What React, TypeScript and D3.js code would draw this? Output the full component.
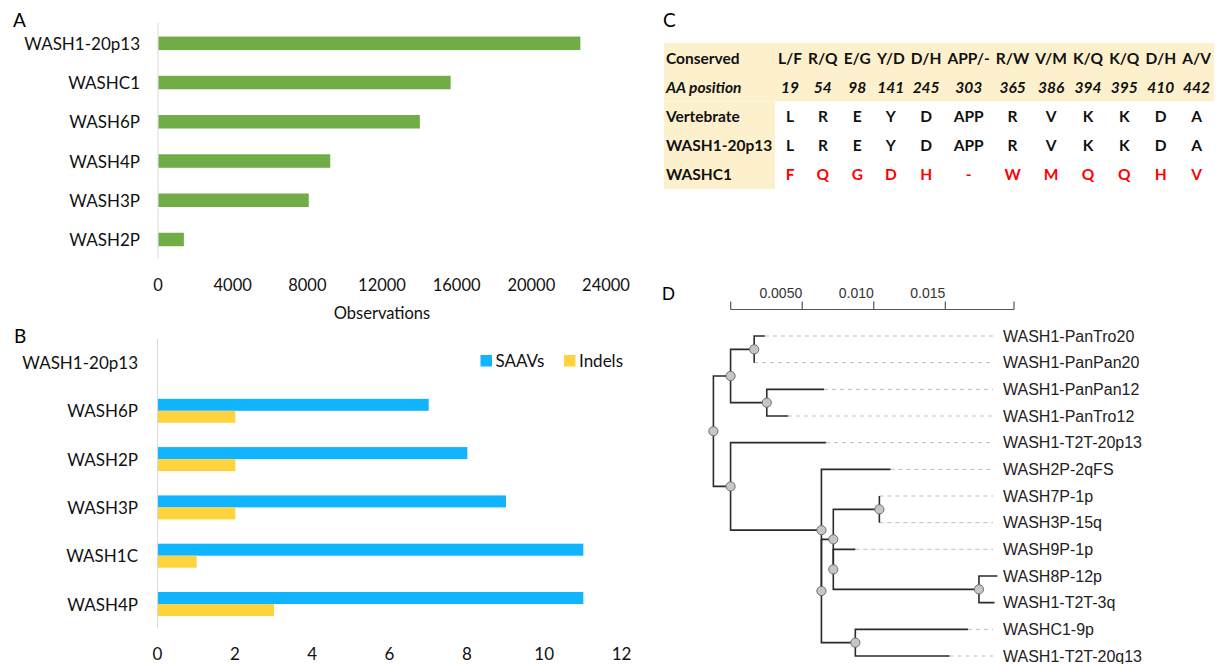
import React from 'react';
import * as d3 from 'd3';

// Panel A
const obsCategories = ['WASH1-20p13', 'WASHC1', 'WASH6P', 'WASH4P', 'WASH3P', 'WASH2P'];
const obsValues = [22600, 15650, 14000, 9200, 8050, 1360];
const obsTicks = [0, 4000, 8000, 12000, 16000, 20000, 24000];

// Panel B
const varCategories = ['WASH1-20p13', 'WASH6P', 'WASH2P', 'WASH3P', 'WASH1C', 'WASH4P'];
const saavValues = [0, 7, 8, 9, 11, 11];
const indelValues = [0, 2, 2, 2, 1, 3];
const varTicks = [0, 2, 4, 6, 8, 10, 12];
const varSeries = ['SAAVs', 'Indels'];

// Panel C
const tableRowLabels = ['Conserved', 'AA position', 'Vertebrate', 'WASH1-20p13', 'WASHC1'];
const conservedPairs = ['L/F', 'R/Q', 'E/G', 'Y/D', 'D/H', 'APP/-', 'R/W', 'V/M', 'K/Q', 'K/Q', 'D/H', 'A/V'];
const aaPositions = ['19', '54', '98', '141', '245', '303', '365', '386', '394', '395', '410', '442'];
const vertebrateAA = ['L', 'R', 'E', 'Y', 'D', 'APP', 'R', 'V', 'K', 'K', 'D', 'A'];
const wash20p13AA = ['L', 'R', 'E', 'Y', 'D', 'APP', 'R', 'V', 'K', 'K', 'D', 'A'];
const washc1AA = ['F', 'Q', 'G', 'D', 'H', '-', 'W', 'M', 'Q', 'Q', 'H', 'V'];

// Panel D: tree as a parent table (branch lengths in substitutions/site)
const treeRows = [
  { id: 'n0', parent: '', len: 0 },
  { id: 'n1', parent: 'n0', len: 0.0012 },
  { id: 'n2', parent: 'n1', len: 0.00165 },
  { id: 'WASH1-PanTro20', parent: 'n2', len: 0.00075 },
  { id: 'WASH1-PanPan20', parent: 'n2', len: 0 },
  { id: 'n3', parent: 'n1', len: 0.00253 },
  { id: 'WASH1-PanPan12', parent: 'n3', len: 0.004 },
  { id: 'WASH1-PanTro12', parent: 'n3', len: 0.0015 },
  { id: 'n4', parent: 'n0', len: 0.0012 },
  { id: 'WASH1-T2T-20p13', parent: 'n4', len: 0.00666 },
  { id: 'n5', parent: 'n4', len: 0.00635 },
  { id: 'WASH2P-2qFS', parent: 'n5', len: 0.00483 },
  { id: 'n6', parent: 'n5', len: 0 },
  { id: 'n7', parent: 'n6', len: 0.00083 },
  { id: 'n8', parent: 'n7', len: 0.00322 },
  { id: 'WASH7P-1p', parent: 'n8', len: 0 },
  { id: 'WASH3P-15q', parent: 'n8', len: 0 },
  { id: 'n9', parent: 'n7', len: 0 },
  { id: 'WASH9P-1p', parent: 'n9', len: 0.00154 },
  { id: 'n10', parent: 'n9', len: 0.01018 },
  { id: 'WASH8P-12p', parent: 'n10', len: 0.00129 },
  { id: 'WASH1-T2T-3q', parent: 'n10', len: 0.00109 },
  { id: 'n11', parent: 'n6', len: 0.00237 },
  { id: 'WASHC1-9p', parent: 'n11', len: 0.00787 },
  { id: 'WASH1-T2T-20q13', parent: 'n11', len: 0.00658 },
];
const scaleTicks = [0.005, 0.01, 0.015];
const scaleTickLabels = ['0.0050', '0.010', '0.015'];
const scaleMax = 0.0198;

const GREEN = '#70ad47';
const BLUE = '#10b4ff';
const YELLOW = '#ffd33d';
const BEIGE = '#fdf0cd';
const AXIS = '#d9d9d9';
const CAL = 'Lato, sans-serif';
const HELV = 'Liberation Sans, Arial, Helvetica, sans-serif';

const canvas = typeof document !== 'undefined' ? document.createElement('canvas') : null;
function textWidth(s: string, font: string) {
  const ctx = canvas && canvas.getContext('2d');
  if (!ctx) return s.length * 8;
  ctx.font = font;
  return ctx.measureText(s).width;
}

function PanelA() {
  const x = d3.scaleLinear().domain([0, 24000]).range([158, 606]);
  const y = d3.scalePoint<string>().domain(obsCategories).range([43.3, 239.5]);
  const barH = 13.5;
  return (
    <g>
      <text x={13} y={27} style={{ fontFamily: CAL }} fontSize={19}>A</text>
      <line x1={x(0)} x2={x(0)} y1={23} y2={258} stroke={AXIS} strokeWidth={1} />
      {obsCategories.map((c, i) => (
        <g key={c}>
          <rect x={x(0) + 0.5} y={y(c)! - barH / 2} width={x(obsValues[i]) - x(0)} height={barH} fill={GREEN} />
          <text x={140} y={y(c)} textAnchor="end" dominantBaseline="central" style={{ fontFamily: CAL }} fontSize={17} fill="#111">{c}</text>
        </g>
      ))}
      {obsTicks.map(t => (
        <text key={t} x={x(t)} y={285} textAnchor="middle" dominantBaseline="central" style={{ fontFamily: CAL }} fontSize={16.5} fill="#111">{t}</text>
      ))}
      <text x={(x(0) + x(24000)) / 2} y={312.5} textAnchor="middle" dominantBaseline="central" style={{ fontFamily: CAL }} fontSize={16.5} fill="#111">Observations</text>
    </g>
  );
}

function PanelB() {
  const x = d3.scaleLinear().domain([0, 12]).range([157.5, 621.5]);
  const y = d3.scalePoint<string>().domain(varCategories).range([362.5, 604]);
  const barH = 12;
  const colors = [BLUE, YELLOW];
  return (
    <g>
      <text x={14} y={343} style={{ fontFamily: CAL }} fontSize={19}>B</text>
      <line x1={x(0)} x2={x(0)} y1={339} y2={628} stroke={AXIS} strokeWidth={1} />
      {varCategories.map((c, i) => (
        <g key={c}>
          {saavValues[i] > 0 && (
            <rect x={x(0) + 0.5} y={y(c)! - barH} width={x(saavValues[i]) - x(0)} height={barH} fill={BLUE} />
          )}
          {indelValues[i] > 0 && (
            <rect x={x(0) + 0.5} y={y(c)!} width={x(indelValues[i]) - x(0)} height={barH} fill={YELLOW} />
          )}
          <text x={138} y={y(c)} textAnchor="end" dominantBaseline="central" style={{ fontFamily: CAL }} fontSize={17} fill="#111">{c}</text>
        </g>
      ))}
      {varTicks.map(t => (
        <text key={t} x={x(t)} y={653} textAnchor="middle" dominantBaseline="central" style={{ fontFamily: CAL }} fontSize={17} fill="#111">{t}</text>
      ))}
      {varSeries.map((s, i) => {
        const lx = i === 0 ? 480.5 : 564;
        return (
          <g key={s}>
            <rect x={lx} y={355} width={11.5} height={11.5} fill={colors[i]} />
            <text x={lx + 15} y={360.5} dominantBaseline="central" style={{ fontFamily: CAL }} fontSize={17} fill="#111">{s}</text>
          </g>
        );
      })}
    </g>
  );
}

function PanelC() {
  const left = 664;
  const firstColRight = 775;
  const right = 1214;
  const rows = d3.scaleBand<string>().domain(tableRowLabels).range([43, 189]);
  const boldFont = `bold 15.5px Lato`;
  const italicFont = `italic bold 15.5px Lato`;
  const widths = conservedPairs.map((h, i) => Math.max(textWidth(h, boldFont), textWidth(aaPositions[i], italicFont)));
  const extra = (right - firstColRight - d3.sum(widths)) / widths.length;
  const centers: number[] = [];
  let acc = firstColRight;
  widths.forEach(w => {
    centers.push(acc + (w + extra) / 2);
    acc += w + extra;
  });
  const body = [conservedPairs, aaPositions, vertebrateAA, wash20p13AA, washc1AA];
  return (
    <g>
      <text x={663} y={27} style={{ fontFamily: CAL }} fontSize={19}>C</text>
      <rect x={left} y={rows('Conserved')} width={right - left} height={rows.bandwidth() * 2} fill={BEIGE} />
      <rect x={left} y={rows('Vertebrate')} width={firstColRight - left} height={rows.bandwidth() * 3} fill={BEIGE} />
      {tableRowLabels.map((r, ri) => {
        const cy = rows(r)! + rows.bandwidth() / 2;
        const italic = r === 'AA position';
        return (
          <g key={r}>
            <text x={666} y={cy} dominantBaseline="central" style={{ fontFamily: CAL }} fontSize={15.5} fontWeight="bold" fontStyle={italic ? 'italic' : 'normal'} fill="#111">{r}</text>
            {body[ri].map((v, ci) => (
              <text key={ci} x={centers[ci]} y={cy} textAnchor="middle" dominantBaseline="central" style={{ fontFamily: CAL }} fontSize={15.5} fontWeight="bold" fontStyle={italic ? 'italic' : 'normal'} fill={r === 'WASHC1' ? '#ff0000' : '#111'}>{v}</text>
            ))}
          </g>
        );
      })}
    </g>
  );
}

function PanelD() {
  const bar = d3.scaleLinear().domain([0, scaleMax]).range([730.7, 1014]);
  const rootX = 713.4;
  const tx = (d: number) => rootX + bar(d) - bar(0);
  const root = d3.stratify<any>().id((d: any) => d.id).parentId((d: any) => d.parent)(treeRows);
  const leaves = root.leaves().map(l => l.id as string);
  const yLeaf = d3.scalePoint<string>().domain(leaves).range([336, 656]);
  const pos = new Map<any, { x: number; y: number }>();
  const depthOf = (n: any): number => (n.parent ? depthOf(n.parent) + n.data.len : 0);
  root.eachAfter((n: any) => {
    const x = tx(depthOf(n));
    let y: number;
    if (!n.children) y = yLeaf(n.id)!;
    else y = (pos.get(n.children[0])!.y + pos.get(n.children[n.children.length - 1])!.y) / 2;
    pos.set(n, { x, y });
  });
  const links = root.links();
  const internal = root.descendants().filter(n => n.children);
  const dashEnd = 993;
  return (
    <g>
      <text x={662} y={300} style={{ fontFamily: HELV }} fontSize={18}>D</text>
      <line x1={bar(0)} x2={bar(scaleMax)} y1={309.5} y2={309.5} stroke="#555" strokeWidth={1.2} />
      {[0, ...scaleTicks, scaleMax].map((t, i) => (
        <line key={i} x1={bar(t)} x2={bar(t)} y1={301.5} y2={309.5} stroke="#555" strokeWidth={1.2} />
      ))}
      {scaleTicks.map((t, i) => (
        <text key={t} x={bar(t)} y={298} textAnchor="end" style={{ fontFamily: HELV }} fontSize={14} fill="#333">{scaleTickLabels[i]}</text>
      ))}
      {root.leaves().map(l => {
        const p = pos.get(l)!;
        return (
          <g key={l.id}>
            {p.x < dashEnd - 2 && (
              <line x1={p.x} x2={dashEnd} y1={p.y} y2={p.y} stroke="#bdbdbd" strokeWidth={1} strokeDasharray="4,4" />
            )}
            <text x={1003} y={p.y} dominantBaseline="central" style={{ fontFamily: HELV }} fontSize={16} fill="#222">{l.id}</text>
          </g>
        );
      })}
      {links.map((lk, i) => {
        const s = pos.get(lk.source)!;
        const t = pos.get(lk.target)!;
        return (
          <path key={i} d={`M${s.x},${s.y}V${t.y}H${t.x}`} fill="none" stroke="#2b2b2b" strokeWidth={1.6} />
        );
      })}
      {internal.map(n => {
        const p = pos.get(n)!;
        return <circle key={n.id} cx={p.x} cy={p.y} r={4.6} fill="#c6c6c6" stroke="#6e6e6e" strokeWidth={1} />;
      })}
    </g>
  );
}

export default function App() {
  return (
    <svg width={1216} height={664} viewBox="0 0 1216 664" style={{ position: 'absolute', left: 0, top: 0, background: '#fff' }}>
      <rect width={1216} height={664} fill="#fff" />
      <PanelA />
      <PanelB />
      <PanelC />
      <PanelD />
    </svg>
  );
}
